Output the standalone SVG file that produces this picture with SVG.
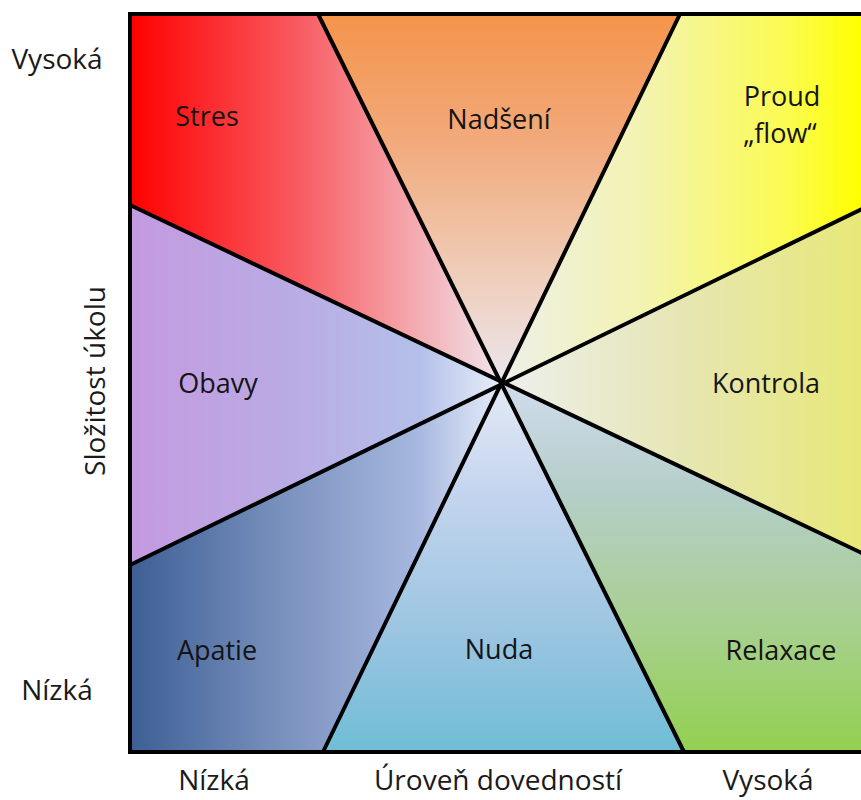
<svg xmlns="http://www.w3.org/2000/svg" width="861" height="800" viewBox="0 0 861 800">
<style>
.lbl{font-family:"Open Sans","Liberation Sans",sans-serif;font-size:27px;fill:#141414;text-anchor:middle}
.ax{font-family:"Open Sans","Liberation Sans",sans-serif;font-size:28px;fill:#1a1a1a;text-anchor:middle}
.div{stroke:#000;stroke-width:4;stroke-linecap:round;fill:none}
</style>
<defs>
<linearGradient id="gStres" gradientUnits="userSpaceOnUse" x1="130" y1="0" x2="500" y2="0">
<stop offset="0" stop-color="#ff0000"/><stop offset="0.45" stop-color="#f85a60"/><stop offset="1" stop-color="#f0e4ea"/>
</linearGradient>
<linearGradient id="gNad" gradientUnits="userSpaceOnUse" x1="0" y1="14" x2="0" y2="383">
<stop offset="0" stop-color="#f4944a"/><stop offset="0.35" stop-color="#f2aa7c"/><stop offset="0.7" stop-color="#efcdb8"/><stop offset="1" stop-color="#ebe6ee"/>
</linearGradient>
<linearGradient id="gProud" gradientUnits="userSpaceOnUse" x1="500" y1="0" x2="861" y2="0">
<stop offset="0" stop-color="#edf0e8"/><stop offset="0.4" stop-color="#f3f3b0"/><stop offset="0.8" stop-color="#fbfb50"/><stop offset="1" stop-color="#ffff00"/>
</linearGradient>
<linearGradient id="gKon" gradientUnits="userSpaceOnUse" x1="500" y1="0" x2="861" y2="0">
<stop offset="0" stop-color="#edf0ee"/><stop offset="0.5" stop-color="#e6e6b4"/><stop offset="1" stop-color="#e8e878"/>
</linearGradient>
<linearGradient id="gObavy" gradientUnits="userSpaceOnUse" x1="130" y1="0" x2="502" y2="0">
<stop offset="0" stop-color="#c49ae0"/><stop offset="0.45" stop-color="#b9ace4"/><stop offset="0.78" stop-color="#b4c0ea"/><stop offset="0.93" stop-color="#d8e0f4"/><stop offset="1" stop-color="#e6ecf8"/>
</linearGradient>
<linearGradient id="gApatie" gradientUnits="userSpaceOnUse" x1="130" y1="0" x2="502" y2="0">
<stop offset="0" stop-color="#3d5f95"/><stop offset="0.4" stop-color="#7890bc"/><stop offset="0.78" stop-color="#a8b8e0"/><stop offset="0.93" stop-color="#d4def2"/><stop offset="1" stop-color="#e2e8f6"/>
</linearGradient>
<linearGradient id="gNuda" gradientUnits="userSpaceOnUse" x1="0" y1="383" x2="0" y2="752">
<stop offset="0" stop-color="#e4eaf6"/><stop offset="0.3" stop-color="#c4d4ee"/><stop offset="0.7" stop-color="#98c4e0"/><stop offset="1" stop-color="#6fbdd6"/>
</linearGradient>
<linearGradient id="gRelax" gradientUnits="userSpaceOnUse" x1="0" y1="383" x2="0" y2="752">
<stop offset="0" stop-color="#d0dcec"/><stop offset="0.3" stop-color="#b4cec8"/><stop offset="0.65" stop-color="#a8d090"/><stop offset="1" stop-color="#92d050"/>
</linearGradient>
</defs>
<rect width="861" height="800" fill="#fff"/>
<g id="stres"><polygon points="130,14 318,14 502,383 130,205" fill="url(#gStres)"/><text class="lbl" x="207" y="126">Stres</text></g>
<g id="nadseni"><polygon points="318,14 680,14 502,383" fill="url(#gNad)"/><text class="lbl" x="499" y="129">Nadšení</text></g>
<g id="proud"><polygon points="680,14 866,14 866,207 502,383" fill="url(#gProud)"/><text class="lbl" x="782" y="106">Proud</text><text class="lbl" x="780" y="143">„flow“</text></g>
<g id="kontrola"><polygon points="866,207 866,555 502,383" fill="url(#gKon)"/><text class="lbl" x="766" y="393">Kontrola</text></g>
<g id="relaxace"><polygon points="866,555 866,752 684,752 502,383" fill="url(#gRelax)"/><text class="lbl" x="781" y="660">Relaxace</text></g>
<g id="nuda"><polygon points="684,752 323,752 502,383" fill="url(#gNuda)"/><text class="lbl" x="499" y="659">Nuda</text></g>
<g id="apatie"><polygon points="323,752 130,752 130,565 502,383" fill="url(#gApatie)"/><text class="lbl" x="217" y="660">Apatie</text></g>
<g id="obavy"><polygon points="130,565 130,205 502,383" fill="url(#gObavy)"/><text class="lbl" x="218" y="393">Obavy</text></g>
<g id="connectors">
<line class="div" x1="318" y1="14" x2="684" y2="752"/>
<line class="div" x1="680" y1="14" x2="323" y2="752"/>
<line class="div" x1="130" y1="205" x2="866" y2="555"/>
<line class="div" x1="130" y1="565" x2="866" y2="207"/>
<polyline class="div" points="866,14 130,14 130,752 866,752" stroke-linecap="butt" stroke-linejoin="miter"/>
</g>
<g id="axes">
<text class="ax" x="57" y="69">Vysoká</text>
<text class="ax" x="57" y="700">Nízká</text>
<text class="ax" x="214" y="790">Nízká</text>
<text class="ax" x="498" y="790">Úroveň dovedností</text>
<text class="ax" x="768" y="790">Vysoká</text>
<text class="ax" x="0" y="0" font-size="37" transform="translate(105,381) rotate(-90)">Složitost úkolu</text>
</g>
</svg>
